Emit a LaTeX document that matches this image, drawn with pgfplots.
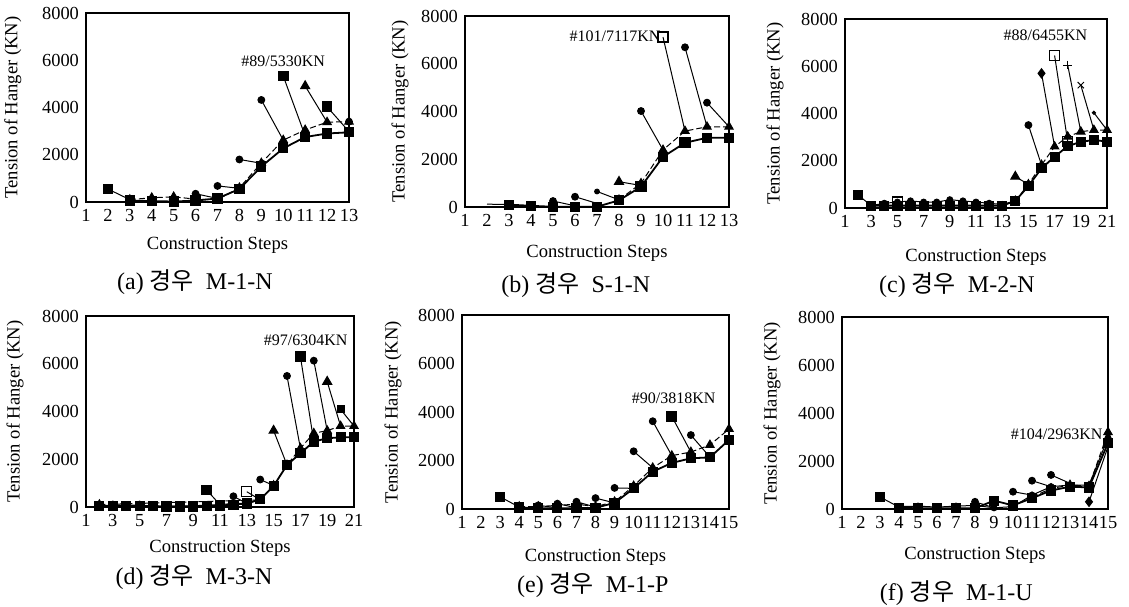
\documentclass[border=0pt]{standalone}
\usepackage{fontspec}
\setmainfont{Liberation Serif}
\newfontfamily\kr{Noto Sans CJK KR}
\usepackage{pgfplots}
\pgfplotsset{compat=1.18}

\pgfplotsset{
  panel/.style={
    scale only axis, anchor=south west,
    ymin=0, ymax=8000, ytick={0,2000,4000,6000,8000},
    axis line style={line width=0.7pt},
    major tick length=0pt,
    tick label style={font=\fontsize{9.2}{10}\selectfont},
    label style={font=\fontsize{9.3}{11}\selectfont},
    /pgf/number format/1000 sep={},
    /pgf/number format/assume math mode=true,
    scaled y ticks=false,
    ylabel={Tension of Hanger (KN)},
    xlabel={Construction Steps},
    clip=false,
  },
  sq/.style={black, line width=0.9pt, mark=square*, mark size=2.1pt},
  tri/.style={black, line width=0.5pt, dash pattern=on 3pt off 1.5pt,
              mark=triangle*, mark size=2.4pt, mark options={solid}},
  cir/.style={black, line width=0.5pt, mark=*, mark size=1.5pt},
  drop/.style={black, line width=0.5pt, mark indices={1}},
  dsq/.style={drop, mark=square*, mark size=2.4pt},
  dci/.style={drop, mark=*, mark size=1.7pt},
  dtr/.style={drop, mark=triangle*, mark size=2.6pt},
  dos/.style={drop, mark=square, mark size=2.5pt, mark options={fill=white, line width=0.6pt}},
  dpl/.style={drop, mark=+, mark size=2.2pt},
  dx/.style={drop, mark=x, mark size=2.2pt},
  ddi/.style={drop, mark=diamond*, mark size=2.3pt},
}
\newcommand{\subcap}[1]{\fontsize{12}{14}\selectfont #1}
\newcommand{\note}[1]{\fontsize{8}{9}\selectfont #1}

\begin{document}
\begin{tikzpicture}
\path[use as bounding box] (0,0) rectangle (564.5pt,303pt);

% (a)
\begin{axis}[panel, at={(43pt,202pt)}, width=131.5pt, height=94.5pt,
  xmin=1, xmax=13, xtick={1,...,13},
  xlabel style={at={(axis description cs:0.5,-0.228)}, anchor=center},
  ylabel style={at={(axis description cs:-0.278,0.5)}, anchor=center}]
\addplot[tri] coordinates {(3,100)(4,180)(5,220)(6,120)(7,100)(8,600)(9,1650)(10,2620)(11,3050)(12,3380)(13,3400)};
\addplot[sq] coordinates {(3,60)(4,40)(5,20)(6,60)(7,150)(8,550)(9,1500)(10,2270)(11,2750)(12,2900)(13,2950)};
\addplot[dsq] coordinates {(2,550)(3,100)};
\addplot[dci] coordinates {(6,350)(7,150)};
\addplot[dci] coordinates {(7,680)(8,580)};
\addplot[dci] coordinates {(8,1800)(9,1640)};
\addplot[dci] coordinates {(9,4320)(10,2620)};
\addplot[dsq] coordinates {(10,5330)(11,2800)};
\addplot[dtr] coordinates {(11,4910)(12,3380)};
\addplot[dsq] coordinates {(12,4030)(13,2980)};
\addplot[dci] coordinates {(13,3400)};
\node at (axis cs:10,5970) {\note{\#89/5330KN}};
\node at (axis description cs:0.414,-0.423) {\subcap{(a)\ {\kr 경우}\ \ M-1-N}};
\end{axis}

% (b)
\begin{axis}[panel, at={(232.5pt,199.5pt)}, width=132pt, height=95.5pt,
  xmin=1, xmax=13, xtick={1,...,13},
  xlabel style={at={(axis description cs:0.5,-0.241)}, anchor=center},
  ylabel style={at={(axis description cs:-0.246,0.5)}, anchor=center}]
\addplot[black, line width=0.5pt] coordinates {(2,120)(3,100)};
\addplot[tri] coordinates {(8,300)(9,990)(10,2390)(11,3180)(12,3360)(13,3360)};
\addplot[sq] coordinates {(3,100)(4,50)(5,10)(6,10)(7,10)(8,280)(9,850)(10,2100)(11,2690)(12,2900)(13,2900)};
\addplot[dos] coordinates {(9,850)};
\addplot[dos] coordinates {(11,2690)};
\addplot[dci] coordinates {(5,250)(6,50)};
\addplot[dci] coordinates {(6,430)(7,150)};
\addplot[dci, mark size=1.2pt] coordinates {(7,650)(8,300)};
\addplot[dtr] coordinates {(8,1060)(9,900)};
\addplot[dci] coordinates {(9,4020)(10,2390)};
\addplot[dos] coordinates {(10,7117)(11,3180)};
\addplot[dci] coordinates {(11,6690)(12,3360)};
\addplot[dci] coordinates {(12,4370)(13,3360)};
\node at (axis cs:7.82,7160) {\note{\#101/7117KN}};
\node at (axis description cs:0.42,-0.408) {\subcap{(b)\ {\kr 경우}\ \ S-1-N}};
\end{axis}

% (c)
\begin{axis}[panel, at={(422.5pt,199pt)}, width=131pt, height=94.5pt,
  xmin=1, xmax=21, xtick={1,3,...,21},
  xlabel style={at={(axis description cs:0.5,-0.259)}, anchor=center},
  ylabel style={at={(axis description cs:-0.267,0.5)}, anchor=center}]
\addplot[tri] coordinates {(14,300)(15,1000)(16,1820)(17,2600)(18,3020)(19,3230)(20,3300)(21,3300)};
\addplot[cir] coordinates {(3,100)(4,200)(5,250)(6,300)(7,250)(8,250)(9,350)(10,300)(11,250)(12,200)(13,150)(14,300)};
\addplot[sq] coordinates {(3,100)(4,100)(5,100)(6,100)(7,100)(8,100)(9,100)(10,100)(11,100)(12,100)(13,100)(14,300)(15,930)(16,1680)(17,2170)(18,2620)(19,2800)(20,2880)(21,2810)};
\addplot[dos] coordinates {(5,250)};
\addplot[dsq] coordinates {(2,550)(3,100)};
\addplot[dtr] coordinates {(14,1330)(15,1000)};
\addplot[dci] coordinates {(15,3510)(16,1820)};
\addplot[ddi] coordinates {(16,5700)(17,2600)};
\addplot[dos] coordinates {(17,6455)(18,2810)};
\addplot[dos] coordinates {(18,2810)};
\addplot[dpl] coordinates {(18,6050)(19,3230)};
\addplot[dx] coordinates {(19,5200)(20,3300)};
\addplot[dci, mark size=0.8pt] coordinates {(20,4030)(21,3300)};
\node at (axis cs:16.3,7320) {\note{\#88/6455KN}};
\node at (axis description cs:0.427,-0.407) {\subcap{(c)\ {\kr 경우}\ \ M-2-N}};
\end{axis}

% (d)
\begin{axis}[panel, at={(43pt,49.5pt)}, width=134pt, height=95.5pt,
  xmin=1, xmax=21, xtick={1,3,...,21},
  xlabel style={at={(axis description cs:0.5,-0.215)}, anchor=center},
  ylabel style={at={(axis description cs:-0.265,0.5)}, anchor=center}]
\addplot[tri] coordinates {(2,100)(14,300)(15,900)(16,1760)(17,2460)(18,3090)(19,3200)(20,3390)(21,3390)};
\addplot[cir] coordinates {(3,80)(4,80)(5,80)(6,40)(7,40)(8,40)(9,50)(10,80)(11,100)(12,150)(13,150)(14,300)};
\addplot[sq] coordinates {(2,50)(3,50)(4,30)(5,50)(6,30)(7,20)(8,20)(9,20)(10,30)(11,60)(12,100)(13,150)(14,320)(15,880)(16,1760)(17,2250)(18,2740)(19,2880)(20,2920)(21,2920)};
\addplot[only marks, mark=o, mark size=1.8pt, mark options={fill=white, black}] coordinates {(3,100)(5,100)(6,50)(7,30)};
\addplot[dsq] coordinates {(10,710)(11,100)};
\addplot[dci] coordinates {(12,450)(13,150)};
\addplot[dos] coordinates {(13,640)(14,300)};
\addplot[dci] coordinates {(14,1150)(15,900)};
\addplot[dtr] coordinates {(15,3200)(16,1760)};
\addplot[dci] coordinates {(16,5490)(17,2460)};
\addplot[dsq] coordinates {(17,6304)(18,2740)};
\addplot[dci] coordinates {(18,6130)(19,3200)};
\addplot[dtr] coordinates {(19,5250)(20,3390)};
\addplot[dsq, mark size=1.7pt] coordinates {(20,4090)(21,3390)};
\node at (axis cs:17.4,7000) {\note{\#97/6304KN}};
\node at (axis description cs:0.403,-0.366) {\subcap{(d)\ {\kr 경우}\ \ M-3-N}};
\end{axis}

% (e)
\begin{axis}[panel, at={(231pt,48.5pt)}, width=133.5pt, height=97pt,
  xmin=1, xmax=15, xtick={1,...,15},
  xlabel style={at={(axis description cs:0.5,-0.247)}, anchor=center},
  ylabel style={at={(axis description cs:-0.258,0.5)}, anchor=center}]
\addplot[tri] coordinates {(4,100)(5,100)(6,150)(7,200)(8,100)(9,300)(10,950)(11,1700)(12,2200)(13,2350)(14,2640)(15,3300)};
\addplot[sq] coordinates {(4,60)(5,30)(6,30)(7,30)(8,50)(9,250)(10,850)(11,1540)(12,1900)(13,2090)(14,2130)(15,2850)};
\addplot[dsq] coordinates {(3,500)(4,80)};
\addplot[dci] coordinates {(5,150)(6,50)};
\addplot[dci] coordinates {(6,220)(7,50)};
\addplot[dci] coordinates {(7,300)(8,80)};
\addplot[dci] coordinates {(8,450)(9,250)};
\addplot[dci] coordinates {(9,870)(10,850)};
\addplot[dci] coordinates {(10,2380)(11,1700)};
\addplot[dci] coordinates {(11,3620)(12,2200)};
\addplot[dsq] coordinates {(12,3818)(13,2350)};
\addplot[dci] coordinates {(13,3050)(14,2140)};
\node at (axis cs:12.1,4550) {\note{\#90/3818KN}};
\node at (axis description cs:0.49,-0.392) {\subcap{(e)\ {\kr 경우}\ \ M-1-P}};
\end{axis}

% (f)
\begin{axis}[panel, at={(421pt,48.5pt)}, width=133pt, height=96pt,
  xmin=1, xmax=15, xtick={1,...,15},
  xlabel style={at={(axis description cs:0.5,-0.24)}, anchor=center},
  ylabel style={at={(axis description cs:-0.263,0.5)}, anchor=center}]
\addplot[cir] coordinates {(4,100)(5,120)(6,80)(7,120)(8,150)(9,50)(10,100)(11,580)(12,930)(13,1000)(14,1000)(15,2963)};
\addplot[tri] coordinates {(11,500)(12,850)(13,1000)(14,950)(15,3200)};
\addplot[sq] coordinates {(4,50)(5,30)(6,30)(7,30)(8,30)(9,350)(10,150)(11,450)(12,770)(13,930)(14,900)(15,2750)};
\addplot[dsq] coordinates {(3,500)(4,80)};
\addplot[dci] coordinates {(8,300)(9,50)};
\addplot[dci] coordinates {(10,720)(11,580)};
\addplot[dci] coordinates {(11,1180)(12,930)};
\addplot[dci] coordinates {(12,1420)(13,1070)};
\addplot[ddi] coordinates {(14,300)(15,2600)};
\node at (axis cs:12.3,3100) {\note{\#104/2963KN}};
\node at (axis description cs:0.43,-0.44) {\subcap{(f)\ {\kr 경우}\ \ M-1-U}};
\end{axis}
\end{tikzpicture}
\end{document}
